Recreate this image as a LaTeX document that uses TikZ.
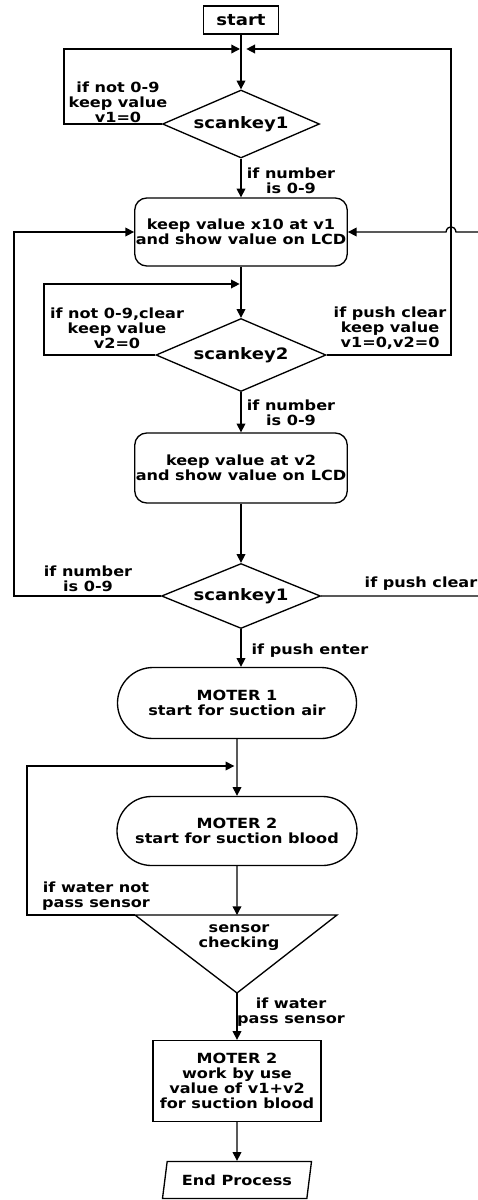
\documentclass[tikz,border=0pt]{standalone}
\usepackage{fontspec}
\setmainfont{DejaVu Sans}[FakeStretch=1.15]
\usetikzlibrary{shapes.geometric,shapes.misc,arrows.meta}

\tikzset{every picture/.style={line width=1pt}}
\tikzset{
  txt/.style={font=\bfseries\fontsize{10.5}{11.2}\selectfont, align=center, inner sep=0.75pt},
  bigtxt/.style={font=\bfseries\fontsize{11.8}{13}\selectfont},
  arr/.style={-{Triangle[length=6.5pt,width=6.5pt]}},
  decision/.style={draw, diamond, aspect=2.3, txt, bigtxt, inner sep=0pt},
  process/.style={draw, rectangle, rounded corners=9pt, txt},
  motor/.style={draw, rounded rectangle, txt},
}

\begin{document}
\begin{tikzpicture}[x=0.75pt,y=0.75pt,yscale=-1,xscale=1]
\useasboundingbox (0,0) rectangle (478,1200);

%Flowchart: Terminator
\node[draw, txt, bigtxt, minimum width=56.25pt, minimum height=21pt] (start) at (241,20) {start};
%Flowchart: Decision
\node[decision, minimum width=117.75pt, minimum height=51pt] (sk1) at (241,124) {scankey1};
%Flowchart: Alternative Process
\node[process, minimum width=159pt, minimum height=51pt] (box1) at (241,232) {keep value x10 at v1\\and show value on LCD};
%Flowchart: Decision
\node[decision, minimum width=127.5pt, minimum height=54.75pt] (sk2) at (241,355) {scankey2};
%Flowchart: Alternative Process
\node[process, minimum width=159pt, minimum height=52.5pt] (box2) at (241,468) {keep value at v2\\and show value on LCD};
%Flowchart: Decision
\node[decision, minimum width=119.25pt, minimum height=48.75pt] (sk3) at (241,596) {scankey1};
%Flowchart: Terminator
\node[motor, minimum width=180.75pt, minimum height=53.25pt] (m1) at (237,703) {MOTER 1\\start for suction air};
\node[motor, minimum width=181.5pt, minimum height=51.75pt] (m2) at (237,831) {MOTER 2\\start for suction blood};
%Flowchart: Merge
\coordinate (tl) at (135,915);
\coordinate (tr) at (337,915);
\coordinate (tb) at (237,993);
\coordinate (tt) at (237,915);
\draw (tl) -- (tr) -- (tb) -- cycle;
\node[txt] (sensor) at (239,938) {sensor\\checking};
%Flowchart: Process
\node[draw, txt, minimum width=126pt, minimum height=60.75pt] (m3) at (237,1081) {MOTER 2\\work by use\\value of v1+v2\\for suction blood};
%Flowchart: Data
\node[draw, trapezium, trapezium left angle=70, trapezium right angle=110, trapezium stretches body, minimum width=111.75pt, minimum height=27.75pt, txt] (stop) at (237,1180) {End Process};

% bends of the loops
\coordinate (j1) at (241,49);
\coordinate (lp1) at (64,49);
\coordinate (rp1) at (451,49);
\coordinate (j2) at (241,284);
\coordinate (lp2) at (44,284);
\coordinate (lp3) at (14,596);
\coordinate (rp3) at (490,596);
\coordinate (hop) at (451,232);
\coordinate (j3) at (237,766);
\coordinate (lp4) at (27,766);

%Connectors
\draw[arr] (start) -- (sk1);
\draw[arr] (sk1.west) -| (lp1) -- ([xshift=-0.75pt]j1);
\draw[arr] (sk1) -- (box1);
\draw[arr] (box1) -- (sk2);
\draw[arr] (sk2.west) -| (lp2) -- ([xshift=-1pt]j2);
\draw[arr] (sk2.east) -| (rp1) -- ([xshift=4pt]j1);
\draw[arr] (sk2) -- (box2);
\draw[arr] (box2) -- (sk3);
\draw[arr] (sk3.west) -- (lp3) |- (box1.west);
\draw[arr] (sk3.east) -- (rp3) |- ([xshift=3.75pt]hop) .. controls (455,225) and (447,225) .. (446,232) -- (box1.east);
\draw[arr] (sk3.south) -- (sk3.south |- m1.north);
\draw[arr] (m1) -- (m2);
\draw[arr] (tl) -| (lp4) -- ([xshift=-2pt]j3);
\draw[arr] (m2) -- (tt);
\draw[arr] (tb) -- (m3);
\draw[arr] (m3) -- (stop);

% Text Node
\node[txt] (t1) at (118,102) {if not 0-9\\keep value\\v1=0};
\node[txt] (t2) at (291,181) {if number\\is 0-9};
\node[txt] (t3) at (117,328) {if not 0-9,clear\\keep value\\v2=0};
\node[txt] (t4) at (390,328) {if push clear\\keep value\\v1=0,v2=0};
\node[txt] (t5) at (291,413) {if number\\is 0-9};
\node[txt] (t6) at (88,579) {if number\\is 0-9};
\node[txt] (t7) at (421,584) {if push clear};
\node[txt] (t8) at (310,651) {if push enter};
\node[txt] (t9) at (96,896) {if water not\\pass sensor};
\node[txt] (t10) at (291,1012) {if water\\pass sensor};

\end{tikzpicture}
\end{document}
